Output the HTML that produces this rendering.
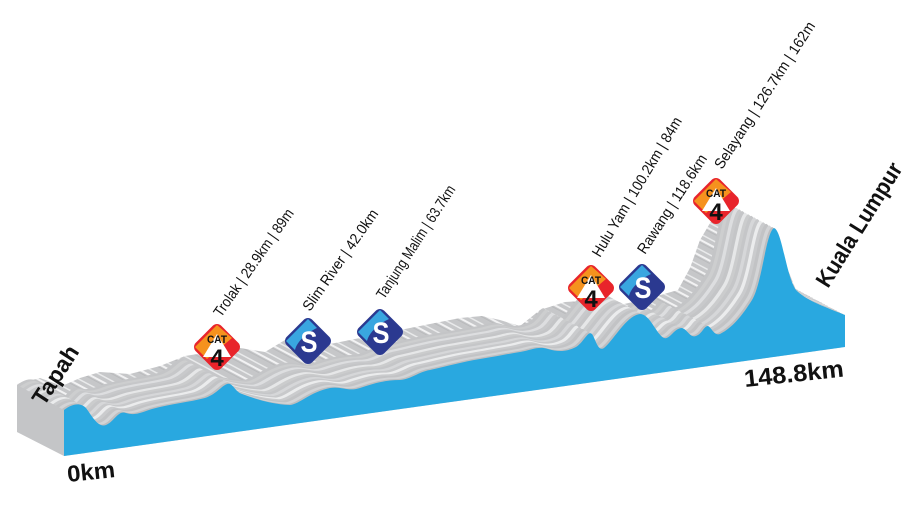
<!DOCTYPE html>
<html><head><meta charset="utf-8"><style>
html,body{margin:0;padding:0;background:#fff;}
svg{display:block;}
text{font-family:"Liberation Sans",sans-serif;}
</style></head><body>
<svg width="921" height="505" viewBox="0 0 921 505" xmlns="http://www.w3.org/2000/svg">
<defs>
<pattern id="str" width="40" height="14" patternUnits="userSpaceOnUse" patternTransform="rotate(28)">
 <rect width="40" height="14" fill="#c6c7c9"/>
 <rect y="3" width="40" height="1.5" fill="#e9eaeb"/>
 <rect y="8" width="40" height="2" fill="#f2f2f3"/>
 <rect y="11" width="40" height="1" fill="#b9babc"/>
</pattern>
<path id="prof" d="M64,456 L64,410 C72,404 80,402 86,408 C92,416 98,428 106,425 C114,422 118,410 126,413 C136,416 142,412 152,409 C170,404 190,402 205,398 C218,394 224,382 230,384 C234,386 236,392 242,394 C258,400 272,404 290,405 C300,404 310,392 330,388 C342,386 348,392 360,388 C372,384 384,380 400,380 C412,379 418,372 430,370 C448,366 462,362 480,359 C498,356 508,354 520,352 C532,350 538,346 548,349 C558,352 566,352 576,347 C584,342 588,330 592,334 C596,340 598,352 604,348 C614,340 626,316 640,314 C650,314 656,334 664,338 C670,340 674,328 682,328 C688,330 690,338 696,336 C702,334 704,326 708,326 C712,328 714,336 720,334 C732,328 742,316 752,300 C762,284 766,232 774,228 C782,230 786,276 796,290 C806,300 820,305 845,315 L845,347 Z"/>
<g id="catb">
 <rect x="-18" y="-18" width="36" height="36" rx="6" transform="rotate(45)" fill="#e8242b"/>
 <path d="M-22,0 L0,-22 L15,-9 L-10,12 Z" fill="#f5921e"/>
 <path d="M-14,10 L0,-13 L14,10 Z" fill="#fff"/>
 <text x="0" y="-4" font-size="11" font-weight="bold" text-anchor="middle" fill="#111" textLength="20" lengthAdjust="spacingAndGlyphs">CAT</text>
 <text x="0" y="19" font-size="24" font-weight="bold" text-anchor="middle" fill="#111">4</text>
</g>
<g id="sb">
 <rect x="-18" y="-18" width="36" height="36" rx="6" transform="rotate(45)" fill="#2b3990"/>
 <path d="M-22,0 L0,-22 L9,-13 C0,-9 -11,0 -13,9 Z" fill="#39a6e0"/>
 <text x="1" y="11" font-size="30" font-weight="bold" text-anchor="middle" fill="#fff" textLength="17" lengthAdjust="spacingAndGlyphs">S</text>
</g>
</defs>
<!-- back silhouette -->
<path d="M17,432 L17,384 L40,378 L62,386 L80,378 L100,372 L130,374 L160,366 L185,356 L210,352 L240,348 L265,352 L285,340 L305,334 L330,344 L360,338 L400,330 L430,324 L460,318 L482,316 L500,320 L520,326 L540,310 L565,302 L600,300 L620,305 L650,298 L678,290 L690,268 L700,240 L713,218 L765,228 L780,250 L800,300 L845,315 L845,347 L64,456 Z" fill="url(#str)"/>
<g>
<use href="#prof" transform="translate(-47,-25)" fill="#c4c5c7"/>
<use href="#prof" transform="translate(-44,-23.4)" fill="#cdcecf"/>
<use href="#prof" transform="translate(-41,-21.8)" fill="#c6c7c9"/>
<use href="#prof" transform="translate(-38,-20.2)" fill="#dddee0"/>
<use href="#prof" transform="translate(-35,-18.6)" fill="#c8c9cb"/>
<use href="#prof" transform="translate(-32,-17)" fill="#c4c5c7"/>
<use href="#prof" transform="translate(-29,-15.4)" fill="#e6e7e8"/>
<use href="#prof" transform="translate(-26,-13.8)" fill="#cbcccd"/>
<use href="#prof" transform="translate(-23,-12.2)" fill="#c5c6c8"/>
<use href="#prof" transform="translate(-20,-10.6)" fill="#d6d7d9"/>
<use href="#prof" transform="translate(-17,-9)" fill="#c8c9cb"/>
<use href="#prof" transform="translate(-14,-7.4)" fill="#ebeced"/>
<use href="#prof" transform="translate(-11,-5.8)" fill="#cacbcd"/>
<use href="#prof" transform="translate(-8,-4.2)" fill="#c2c3c5"/>
<use href="#prof" transform="translate(-5,-2.6)" fill="#d3d4d6"/>
<use href="#prof" transform="translate(-2,-1)" fill="#bdbec0"/>
</g>
<path d="M17,385 L64,410 L64,456 L17,432 Z" fill="#c4c5c7"/>
<use href="#prof" fill="#29a8e0"/>

<use href="#catb" x="217" y="347"/>
<use href="#catb" x="591" y="288"/>
<use href="#catb" x="716" y="201"/>
<use href="#sb" x="308" y="341"/>
<use href="#sb" x="380" y="332"/>
<use href="#sb" x="642" y="287"/>

<g font-size="15" fill="#111">
<text transform="translate(221,318) rotate(-55)" textLength="128" lengthAdjust="spacingAndGlyphs">Trolak | 28.9km | 89m</text>
<text transform="translate(310,312) rotate(-55)" textLength="120" lengthAdjust="spacingAndGlyphs">Slim River | 42.0km</text>
<text transform="translate(384,300) rotate(-57)" textLength="132" lengthAdjust="spacingAndGlyphs">Tanjung Malim | 63.7km</text>
<text transform="translate(600,258) rotate(-59)" textLength="160" lengthAdjust="spacingAndGlyphs">Hulu Yam | 100.2km | 84m</text>
<text transform="translate(645,255) rotate(-57)" textLength="115" lengthAdjust="spacingAndGlyphs">Rawang | 118.6km</text>
<text transform="translate(722,170) rotate(-57)" textLength="172" lengthAdjust="spacingAndGlyphs">Selayang | 126.7km | 162m</text>
</g>
<g font-size="23" font-weight="bold" fill="#111">
<text transform="translate(44,407) rotate(-57)">Tapah</text>
<text transform="translate(68,482) rotate(-6)" textLength="48" lengthAdjust="spacingAndGlyphs">0km</text>
<text transform="translate(745,387) rotate(-6)" font-size="24" textLength="100" lengthAdjust="spacingAndGlyphs">148.8km</text>
<text transform="translate(828,289) rotate(-58)" textLength="142" lengthAdjust="spacingAndGlyphs">Kuala Lumpur</text>
</g>
</svg>
</body></html>
